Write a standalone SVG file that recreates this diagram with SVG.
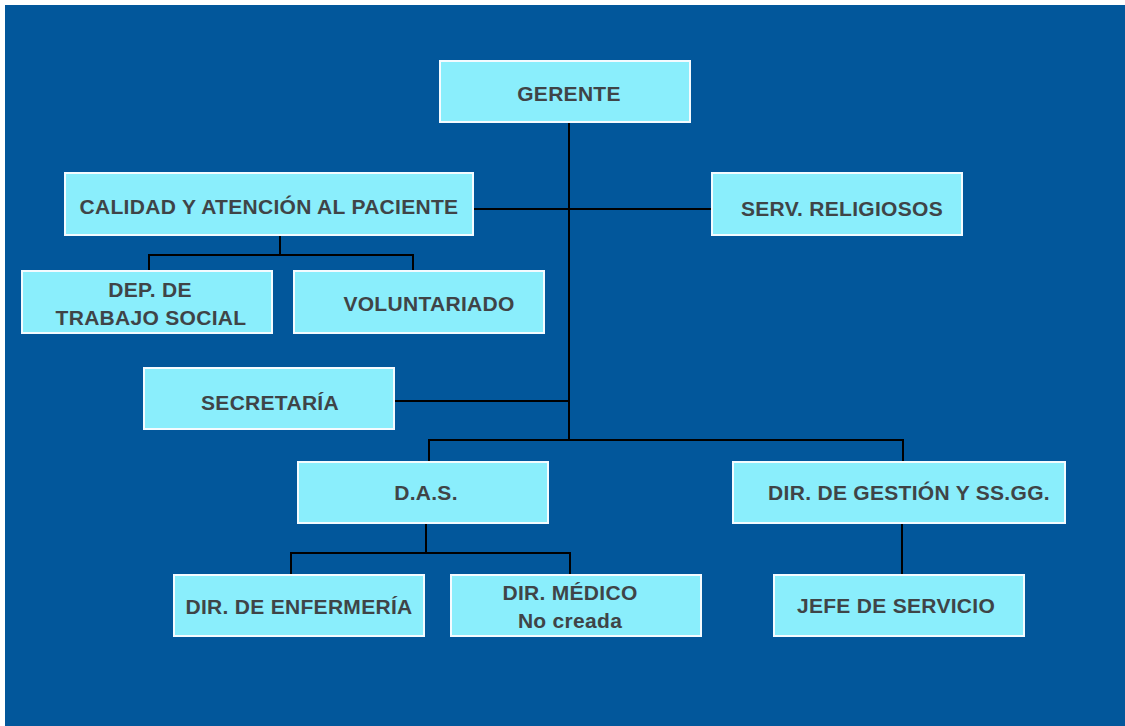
<svg xmlns="http://www.w3.org/2000/svg" width="1125" height="726" viewBox="0 0 1125 726">
<style>
.bx{fill:#8AEEFC;stroke:#F4FBFF;stroke-width:2}
.t{font-family:"Liberation Sans",Arial,sans-serif;font-weight:bold;font-size:21px;letter-spacing:0.3px;fill:#3F4447;text-anchor:middle}
.c{fill:none;stroke:#000;stroke-width:2}
</style>
<rect x="0" y="0" width="1125" height="726" fill="#FFFFFF"/>
<rect x="5" y="5" width="1120" height="721" fill="#02579B"/>
<g id="connectors">
<path class="c" d="M569 122V440"/>
<path class="c" d="M473 209H712"/>
<path class="c" d="M280 235V255M149 271V255H413V271"/>
<path class="c" d="M394 401H569"/>
<path class="c" d="M429 462V440H903V462"/>
<path class="c" d="M426 523V553M291 575V553H570V575"/>
<path class="c" d="M902 523V575"/>
</g>
<g id="gerente"><rect class="bx" x="440" y="61" width="250" height="61"/><text class="t" x="569" y="101">GERENTE</text></g>
<g id="calidad"><rect class="bx" x="65" y="173" width="408" height="62"/><text class="t" x="269" y="214">CALIDAD Y ATENCIÓN AL PACIENTE</text></g>
<g id="religiosos"><rect class="bx" x="712" y="173" width="250" height="62"/><text class="t" x="842" y="216">SERV. RELIGIOSOS</text></g>
<g id="trabajo-social"><rect class="bx" x="22" y="271" width="250" height="62"/><text class="t" x="150" y="297">DEP. DE</text><text class="t" x="151" y="325">TRABAJO SOCIAL</text></g>
<g id="voluntariado"><rect class="bx" x="294" y="271" width="250" height="62"/><text class="t" x="429" y="311">VOLUNTARIADO</text></g>
<g id="secretaria"><rect class="bx" x="144" y="368" width="250" height="61"/><text class="t" x="270" y="410">SECRETARÍA</text></g>
<g id="das"><rect class="bx" x="298" y="462" width="250" height="61"/><text class="t" x="426" y="500">D.A.S.</text></g>
<g id="gestion"><rect class="bx" x="733" y="462" width="332" height="61"/><text class="t" x="909" y="500">DIR. DE GESTIÓN Y SS.GG.</text></g>
<g id="enfermeria"><rect class="bx" x="174" y="575" width="250" height="61"/><text class="t" x="299" y="614">DIR. DE ENFERMERÍA</text></g>
<g id="medico"><rect class="bx" x="451" y="575" width="250" height="61"/><text class="t" x="570" y="600">DIR. MÉDICO</text><text class="t" x="570" y="628">No creada</text></g>
<g id="jefe"><rect class="bx" x="774" y="575" width="250" height="61"/><text class="t" x="896" y="613">JEFE DE SERVICIO</text></g>
</svg>
